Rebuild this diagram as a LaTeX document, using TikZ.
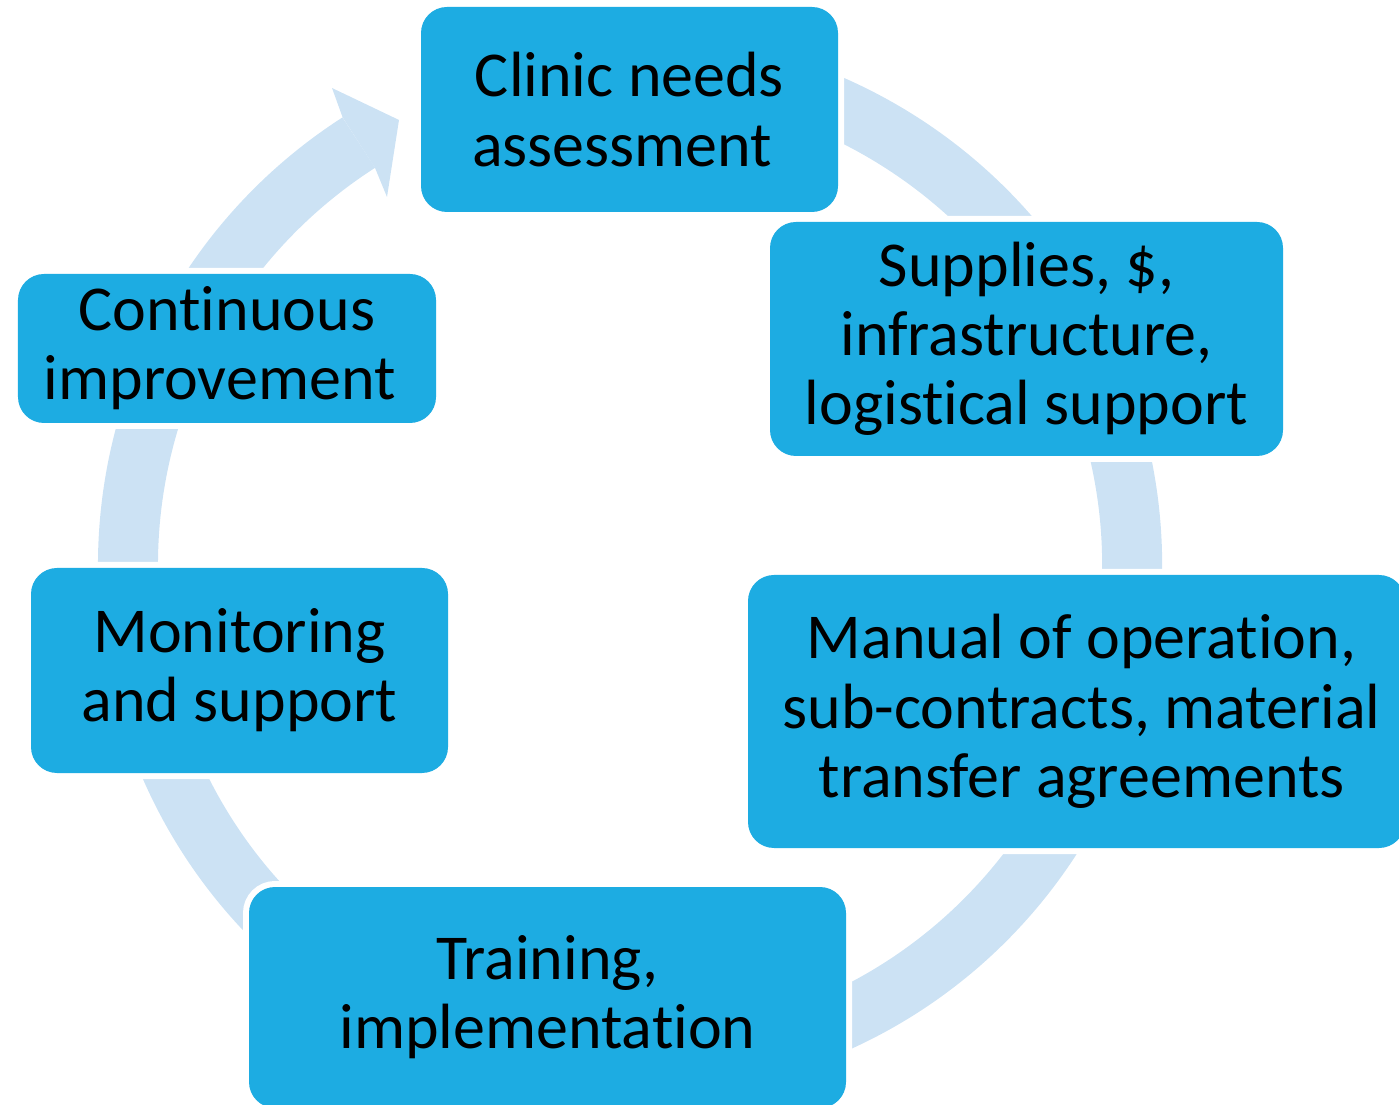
\documentclass[tikz,border=0pt]{standalone}
\usepackage{fontspec}
\setmainfont{Carlito}[Ligatures=NoCommon]
\definecolor{boxblue}{RGB}{29,172,226}
\definecolor{ringblue}{RGB}{204,226,244}
\begin{document}
\begin{tikzpicture}[
  cyclebox/.style={shape=rectangle, rounded corners=0.52cm, fill=boxblue, inner sep=0pt,
    align=center, text=black, font=\fontsize{36.4pt}{39.4pt}\selectfont,
    preaction={draw=white, line width=0.24cm}},
  ringband/.style={draw=ringblue, line width=1.2cm},
]
\useasboundingbox (0,0) rectangle (27.98,22.08);
\coordinate (ctr) at (12.6,10.78);
\begin{scope}[shift={(ctr)}]
  \draw[ringband] (110:10.04) arc[start angle=110, end angle=-237.3, radius=10.04];
  \fill[ringblue] (-5.96,9.54) -- (-4.62,8.90) -- (-4.86,7.36) -- (-5.100,7.943) -- (-5.748,8.953) -- cycle;
\end{scope}
\node[cyclebox, minimum width=8.34cm, minimum height=4.10cm] (clinic) at (12.59,19.89) {Clinic needs\\assessment\kern0.23em};
\node[cyclebox, minimum width=10.26cm, minimum height=4.68cm] (supplies) at (20.53,15.30) {Supplies, \$,\\infrastructure,\\logistical support};
\node[cyclebox, minimum width=13.14cm, minimum height=5.46cm] (manual) at (21.53,7.85) {\hspace*{0.2cm}Manual of operation,\\\hspace*{0.2cm}sub-contracts, material\\\hspace*{0.2cm}transfer agreements};
\node[cyclebox, minimum width=11.94cm, minimum height=4.42cm] (training) at (10.95,2.13) {Training,\\implementation};
\node[cyclebox, minimum width=8.34cm, minimum height=4.10cm] (monitor) at (4.79,8.67) {Monitoring\\and support};
\node[cyclebox, minimum width=8.36cm, minimum height=2.98cm] (contin) at (4.54,15.11) {Continuous\\improvement\kern0.23em};
\end{tikzpicture}
\end{document}
